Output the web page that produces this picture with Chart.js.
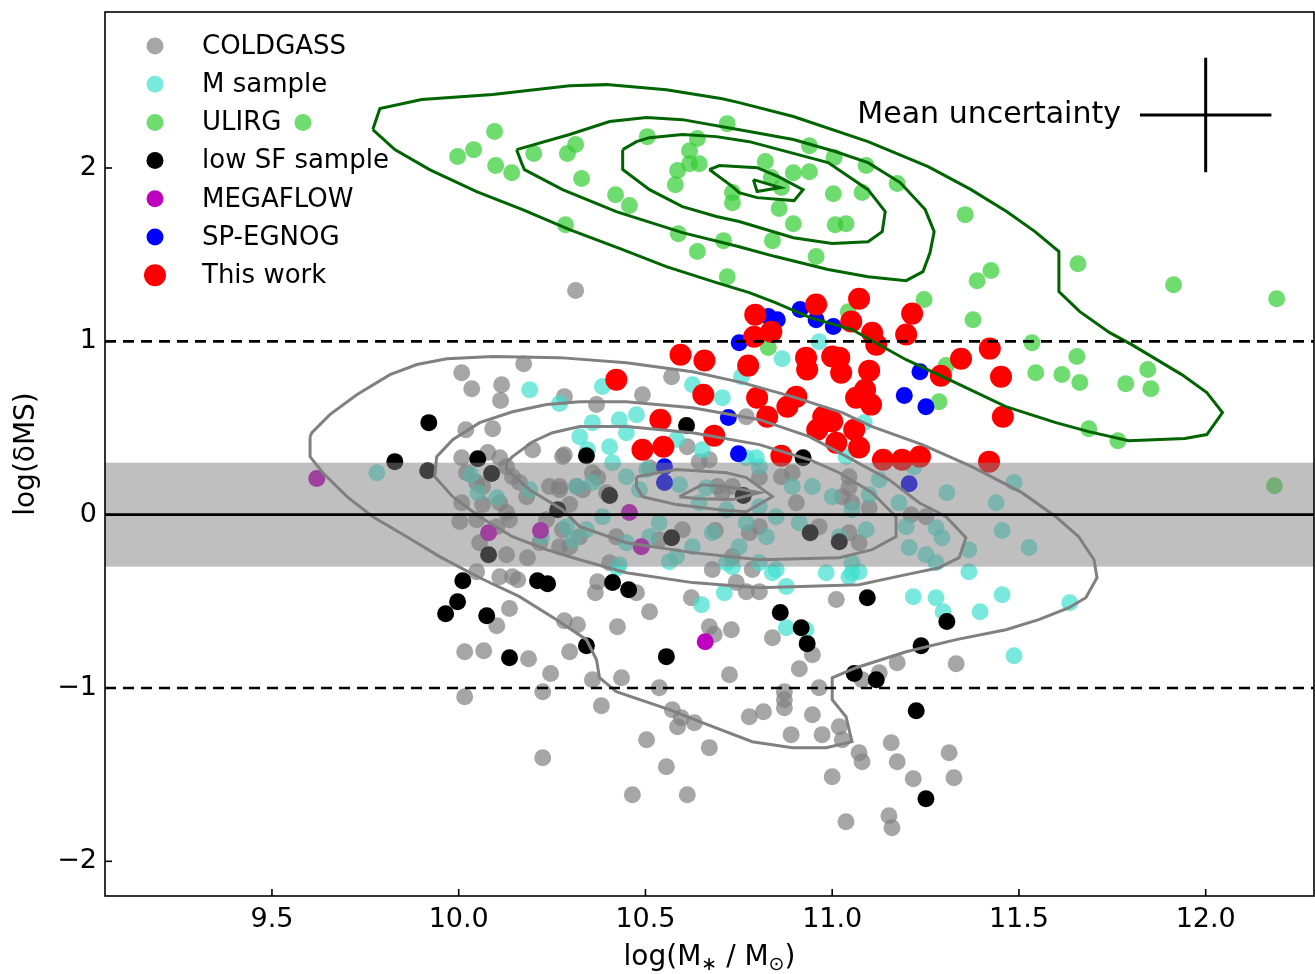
<!DOCTYPE html>
<html>
<head>
<meta charset="utf-8">
<script src="https://cdn.jsdelivr.net/npm/chart.js@4.4.0/dist/chart.umd.min.js"></script>
<style>
html, body { margin: 0; padding: 0; background: #fff; }
</style>
</head>
<body>
<canvas id="grafico" width="1315" height="974"></canvas>
<script>
// ejes
const ticksX = [9.5, 10.0, 10.5, 11.0, 11.5, 12.0];
const ticksY = [-2, -1, 0, 1, 2];
const limX = [9.053, 12.29];
const limY = [-2.2, 2.9];

// muestras [log M*, log dMS]
const coldgass = [[10.008,0.819],[10.174,0.871],[10.035,0.727],[10.115,0.750],[10.112,0.658],[10.283,0.681],[10.019,0.490],[10.091,0.496],[10.198,0.375],[10.278,0.335],[10.008,0.329],[10.078,0.358],[10.110,0.329],[10.128,0.277],[10.021,0.242],[10.144,0.219],[10.163,0.185],[10.048,0.185],[10.064,0.162],[10.182,0.104],[10.110,0.069],[10.008,0.069],[10.064,0.058],[10.243,0.162],[10.270,0.162],[10.316,0.162],[10.297,0.058],[10.128,0.012],[10.003,-0.040],[10.048,-0.029],[10.102,-0.069],[10.136,-0.029],[10.235,-0.029],[10.278,-0.087],[10.297,-0.185],[10.217,-0.162],[10.056,-0.162],[10.128,-0.231],[10.184,-0.248],[10.048,-0.329],[10.110,-0.358],[10.144,-0.358],[10.158,-0.375],[10.136,-0.542],[10.102,-0.641],[10.016,-0.791],[10.067,-0.785],[10.187,-0.831],[10.246,-0.917],[10.225,-1.021],[10.016,-1.050],[10.225,-1.402],[10.283,-0.612],[10.297,-0.791],[10.372,-0.387],[10.366,-0.450],[10.476,-0.450],[10.623,-0.479],[10.511,-0.560],[10.425,-0.646],[10.318,-0.635],[10.671,-0.646],[10.684,-0.692],[10.730,-0.664],[10.840,-0.710],[10.947,-0.808],[10.912,-0.889],[10.436,-0.941],[10.725,-0.923],[10.358,-0.952],[10.537,-0.998],[10.965,-0.998],[10.872,-1.021],[10.872,-1.068],[10.872,-1.114],[10.382,-1.102],[10.572,-1.125],[10.596,-1.171],[10.586,-1.223],[10.631,-1.200],[10.778,-1.166],[10.816,-1.137],[10.947,-1.154],[11.019,-1.223],[10.973,-1.269],[10.890,-1.269],[10.503,-1.298],[10.671,-1.344],[11.072,-1.373],[10.556,-1.454],[11.000,-1.512],[10.465,-1.616],[10.612,-1.616],[11.037,-1.771],[10.786,-0.317],[10.743,-0.392],[10.770,-0.444],[10.805,-0.444],[11.011,-0.490],[11.174,-0.854],[11.332,-0.860],[11.126,-0.912],[11.080,-0.952],[11.027,-1.298],[11.158,-1.316],[11.080,-1.425],[11.174,-1.425],[11.313,-1.373],[11.217,-1.523],[11.326,-1.518],[11.152,-1.737],[11.160,-1.806],[10.570,0.796],[10.492,0.692],[10.369,0.635],[10.770,0.565],[10.671,0.317],[10.693,0.162],[10.733,0.162],[10.706,0.127],[10.893,0.242],[11.045,0.219],[11.045,0.156],[11.027,0.104],[11.053,0.069],[10.965,-0.069],[11.045,-0.104],[11.072,-0.162],[10.904,0.069],[10.805,-0.069],[10.778,-0.104],[10.599,-0.087],[10.687,-0.092],[10.537,-0.144],[10.679,-0.317],[10.733,-0.242],[10.422,-0.127],[10.404,-0.277],[10.324,-0.127],[10.270,-0.185],[10.270,0.144],[10.358,0.242],[10.396,0.127],[10.332,0.144],[11.099,0.040],[11.211,0.000],[11.251,-0.012],[10.313,1.293],[10.283,0.346],[10.372,0.214],[10.511,0.271],[10.612,0.392],[10.644,0.306],[10.805,0.214],[10.864,0.219]];

const mSample = [[10.190,0.721],[10.270,0.641],[9.781,0.242],[10.032,0.231],[10.051,0.127],[10.102,0.098],[10.190,0.144],[10.222,-0.127],[10.289,-0.069],[10.305,-0.144],[10.324,0.450],[10.385,0.739],[10.358,0.531],[10.345,0.375],[10.404,0.392],[10.449,0.473],[10.476,0.577],[10.430,0.548],[10.626,0.750],[10.706,0.675],[10.757,0.796],[10.866,0.900],[10.770,0.329],[10.797,0.329],[10.805,0.277],[10.652,0.375],[10.583,0.433],[10.503,0.260],[10.449,0.219],[10.358,0.185],[10.316,0.162],[10.412,0.300],[10.484,0.144],[10.591,0.173],[10.663,0.156],[10.644,0.069],[10.717,0.029],[10.805,0.046],[10.824,-0.127],[10.893,0.162],[10.947,0.162],[11.000,0.104],[11.053,0.029],[11.019,-0.127],[10.912,-0.046],[10.850,-0.012],[10.770,-0.046],[10.679,-0.104],[10.626,-0.185],[10.537,-0.046],[10.511,-0.127],[10.449,-0.162],[10.385,-0.012],[10.342,-0.087],[10.751,-0.185],[10.805,-0.277],[10.850,-0.317],[10.717,-0.277],[10.583,-0.242],[10.430,-0.289],[11.053,-0.277],[11.053,-0.335],[10.984,-0.335],[11.086,0.531],[11.037,0.335],[11.126,0.202],[11.099,0.115],[11.179,0.069],[11.198,-0.069],[11.278,-0.075],[11.294,-0.133],[11.307,0.127],[11.439,0.069],[11.487,0.185],[11.455,-0.092],[11.527,-0.190],[11.366,-0.202],[11.206,-0.190],[11.251,-0.231],[11.278,-0.277],[11.366,-0.329],[11.072,-0.329],[11.045,-0.358],[11.219,0.277],[11.091,-0.087],[10.425,-0.306],[10.733,-0.300],[10.840,-0.335],[10.877,-0.415],[10.711,-0.450],[10.650,-0.519],[10.877,-0.652],[10.930,-0.664],[11.217,-0.473],[11.278,-0.479],[11.297,-0.560],[11.396,-0.560],[11.455,-0.462],[11.636,-0.508],[11.487,-0.814],[10.564,-0.271],[10.965,0.998]];

const ulirg = [[9.583,2.262],[9.997,2.066],[10.040,2.106],[10.096,2.210],[10.099,2.014],[10.142,1.973],[10.201,2.083],[10.291,2.083],[10.313,2.135],[10.329,1.939],[10.286,1.673],[10.420,1.846],[10.457,1.783],[10.505,2.181],[10.588,1.621],[10.639,1.518],[10.719,1.373],[10.719,2.256],[10.639,2.170],[10.618,2.100],[10.618,2.025],[10.644,2.025],[10.586,1.985],[10.580,1.904],[10.733,1.858],[10.733,1.800],[10.709,1.581],[10.821,2.037],[10.939,2.129],[11.005,2.060],[11.091,2.014],[11.174,1.910],[10.896,1.973],[10.939,1.979],[10.837,1.945],[10.864,1.887],[11.003,1.852],[11.080,1.858],[10.858,1.766],[10.896,1.679],[11.008,1.673],[11.037,1.679],[10.840,1.581],[10.957,1.489],[11.356,1.731],[11.658,1.448],[11.425,1.408],[11.388,1.350],[11.914,1.327],[12.190,1.246],[11.246,1.241],[11.377,1.125],[11.535,0.992],[11.655,0.912],[11.545,0.819],[11.615,0.808],[11.663,0.762],[11.845,0.837],[11.786,0.756],[11.853,0.727],[11.687,0.496],[11.765,0.427],[11.286,0.652],[11.305,0.860],[11.043,1.171],[10.829,0.964],[12.184,0.167]];

const lowSF = [[9.920,0.531],[9.829,0.306],[9.917,0.254],[10.051,0.323],[10.088,0.237],[10.265,0.029],[10.080,-0.231],[10.011,-0.381],[9.997,-0.502],[9.965,-0.571],[10.075,-0.583],[10.136,-0.825],[10.211,-0.381],[10.238,-0.398],[10.610,0.514],[10.342,0.340],[10.404,0.110],[10.762,0.110],[10.570,-0.133],[10.922,0.329],[10.941,-0.104],[11.019,-0.156],[10.412,-0.392],[10.455,-0.433],[10.342,-0.756],[10.556,-0.819],[10.861,-0.565],[10.917,-0.652],[10.933,-0.744],[11.059,-0.917],[11.094,-0.479],[11.307,-0.617],[11.238,-0.756],[11.118,-0.952],[11.225,-1.131],[11.251,-1.639]];

const megaflow = [[9.620,0.208],[10.080,-0.104],[10.219,-0.092],[10.457,0.012],[10.489,-0.185],[10.660,-0.733]];

const spEgnog = [[10.751,0.992],[10.829,1.143],[10.853,1.125],[10.914,1.183],[10.957,1.125],[11.003,1.085],[11.235,0.825],[11.193,0.687],[11.251,0.623],[10.722,0.560],[10.749,0.352],[10.551,0.277],[10.551,0.185],[11.206,0.179]];

const thisWork = [[10.422,0.779],[10.594,0.923],[10.658,0.889],[10.655,0.692],[10.540,0.548],[10.492,0.375],[10.548,0.392],[10.684,0.456],[10.775,0.860],[10.794,1.154],[10.791,1.027],[10.837,1.056],[10.799,0.675],[10.826,0.565],[10.880,0.623],[10.904,0.681],[10.864,0.340],[10.957,1.212],[10.930,0.906],[10.933,0.837],[11.000,0.912],[11.024,0.819],[11.072,1.246],[11.051,1.114],[11.107,1.050],[11.118,0.981],[11.214,1.160],[11.198,1.039],[11.099,0.831],[11.064,0.675],[11.088,0.721],[11.104,0.635],[10.976,0.565],[10.960,0.490],[11.011,0.415],[11.059,0.490],[11.072,0.387],[11.291,0.802],[11.345,0.900],[11.422,0.958],[11.452,0.796],[11.457,0.565],[11.136,0.317],[11.187,0.317],[11.235,0.335],[11.420,0.306],[11.019,0.906],[11.000,0.537]];

// contornos de densidad ULIRG
const ulirgCont1 = [[9.770,2.222],[9.789,2.343],[9.901,2.395],[10.091,2.424],[10.297,2.475],[10.396,2.481],[10.556,2.452],[10.706,2.400],[10.751,2.377],[10.896,2.297],[11.096,2.152],[11.257,2.008],[11.372,1.875],[11.468,1.748],[11.543,1.633],[11.607,1.518],[11.607,1.287],[11.663,1.171],[11.743,1.050],[11.802,0.981],[11.936,0.808],[12.003,0.704],[12.045,0.589],[12.003,0.462],[11.944,0.439],[11.794,0.427],[11.687,0.479],[11.599,0.531],[11.465,0.623],[11.313,0.779],[11.198,0.894],[11.053,1.068],[10.941,1.137],[10.848,1.223],[10.778,1.281],[10.690,1.339],[10.556,1.431],[10.439,1.529],[10.297,1.645],[10.171,1.760],[10.048,1.864],[9.922,1.991],[9.829,2.106]];
const ulirgCont2 = [[10.155,2.106],[10.297,2.193],[10.404,2.268],[10.503,2.291],[10.599,2.279],[10.778,2.210],[10.896,2.164],[11.008,2.095],[11.096,2.031],[11.182,1.916],[11.249,1.760],[11.273,1.633],[11.262,1.512],[11.243,1.402],[11.198,1.350],[11.096,1.373],[10.989,1.414],[10.848,1.489],[10.751,1.546],[10.599,1.627],[10.422,1.748],[10.278,1.875],[10.176,1.991],[10.168,2.031]];
const ulirgCont3 = [[10.439,2.106],[10.476,2.152],[10.511,2.175],[10.599,2.193],[10.690,2.181],[10.778,2.152],[10.989,2.031],[11.096,1.875],[11.142,1.748],[11.134,1.633],[11.096,1.575],[11.000,1.564],[10.896,1.598],[10.751,1.691],[10.690,1.720],[10.599,1.777],[10.511,1.875],[10.439,1.991]];
const ulirgCont4 = [[10.671,1.991],[10.698,2.014],[10.799,2.002],[10.856,1.950],[10.922,1.875],[10.898,1.812],[10.799,1.829],[10.751,1.858],[10.733,1.893]];
const ulirgCont5 = [[10.789,1.933],[10.861,1.887],[10.799,1.864]];

// contornos de densidad COLDGASS
const cgCont1 = [[9.602,0.450],[9.602,0.335],[9.636,0.242],[9.701,0.104],[9.770,-0.012],[9.861,-0.127],[9.949,-0.242],[10.056,-0.364],[10.163,-0.473],[10.262,-0.606],[10.342,-0.721],[10.369,-0.837],[10.377,-0.941],[10.422,-1.021],[10.564,-1.125],[10.652,-1.200],[10.786,-1.310],[10.893,-1.344],[10.984,-1.344],[11.053,-1.310],[11.037,-1.166],[11.000,-1.068],[11.000,-0.941],[11.064,-0.883],[11.198,-0.791],[11.332,-0.721],[11.465,-0.664],[11.553,-0.606],[11.634,-0.537],[11.679,-0.479],[11.709,-0.364],[11.701,-0.260],[11.660,-0.127],[11.599,-0.012],[11.508,0.127],[11.374,0.277],[11.241,0.404],[11.107,0.508],[11.027,0.589],[10.893,0.681],[10.759,0.762],[10.626,0.825],[10.449,0.877],[10.270,0.906],[10.091,0.912],[9.968,0.900],[9.888,0.866],[9.816,0.808],[9.727,0.692],[9.655,0.577],[9.607,0.473]];
const cgCont2 = [[10.324,-0.260],[10.449,-0.335],[10.626,-0.392],[10.805,-0.421],[11.072,-0.404],[11.198,-0.346],[11.286,-0.306],[11.340,-0.248],[11.358,-0.133],[11.305,-0.012],[11.233,0.069],[11.152,0.202],[11.019,0.358],[10.939,0.450],[10.805,0.548],[10.626,0.617],[10.449,0.652],[10.324,0.652],[10.235,0.635],[10.144,0.594],[10.056,0.531],[9.984,0.433],[9.941,0.335],[9.936,0.219],[9.984,0.104],[10.056,-0.012],[10.144,-0.127],[10.235,-0.202]];
const cgCont3 = [[10.128,0.300],[10.144,0.335],[10.198,0.421],[10.251,0.473],[10.324,0.508],[10.449,0.508],[10.626,0.473],[10.805,0.404],[10.939,0.317],[11.019,0.242],[11.107,0.127],[11.171,-0.012],[11.171,-0.127],[11.107,-0.202],[11.019,-0.248],[10.805,-0.260],[10.626,-0.219],[10.449,-0.162],[10.324,-0.069],[10.278,0.029],[10.190,0.144],[10.128,0.260]];
const cgCont4 = [[10.476,0.219],[10.583,0.260],[10.717,0.242],[10.770,0.214],[10.840,0.104],[10.770,0.017],[10.698,0.029],[10.583,0.058],[10.492,0.104],[10.476,0.162]];
const cgCont5 = [[10.591,0.104],[10.652,0.173],[10.717,0.162],[10.805,0.127],[10.733,0.087],[10.644,0.092]];

// referencias
const bandaMS = 0.3;
const lineasMS = [-1, 1];
const incertMedia = { x: 12.0, y: 2.306, ex: 0.176, ey: 0.33 };

const aPuntos = arr => arr.map(p => ({ x: p[0], y: p[1] }));
const cerrado = arr => aPuntos(arr.concat([arr[0]]));
const fuente = '"DejaVu Sans", sans-serif';

const serie = (label, arr, color, radio, orden) => ({
    label: label, data: aPuntos(arr), backgroundColor: color, borderWidth: 0,
    pointRadius: radio, pointHoverRadius: radio, showLine: false, order: orden, enLeyenda: true
});
const contorno = (arr, color) => ({
    label: '', data: cerrado(arr), borderColor: color, borderWidth: 3, showLine: true,
    pointRadius: 0, fill: false, tension: 0, order: 1, enLeyenda: false
});

const extras = {
    id: 'extras',
    afterDatasetsDraw(chart) {
        const { ctx, chartArea: a, scales: { x, y } } = chart;
        ctx.save();
        ctx.beginPath();
        ctx.rect(a.left, a.top, a.width, a.height);
        ctx.clip();
        // banda de la secuencia principal
        const yA = y.getPixelForValue(bandaMS);
        const yB = y.getPixelForValue(-bandaMS);
        ctx.fillStyle = 'rgba(128,128,128,0.5)';
        ctx.fillRect(a.left, yA, a.width, yB - yA);
        // lineas discontinuas
        ctx.strokeStyle = '#000';
        ctx.lineWidth = 2.6;
        ctx.setLineDash([11, 7]);
        lineasMS.forEach(v => {
            const py = y.getPixelForValue(v);
            ctx.beginPath(); ctx.moveTo(a.left, py); ctx.lineTo(a.right, py); ctx.stroke();
        });
        ctx.setLineDash([]);
        const p0 = y.getPixelForValue(0);
        ctx.beginPath(); ctx.moveTo(a.left, p0); ctx.lineTo(a.right, p0); ctx.stroke();
        ctx.restore();
    },
    afterDraw(chart) {
        const { ctx, chartArea: a, scales: { x, y } } = chart;
        ctx.save();
        // marco y ticks hacia dentro
        ctx.strokeStyle = '#000';
        ctx.lineWidth = 1.6;
        ctx.strokeRect(a.left, a.top, a.width, a.height);
        ticksX.forEach(v => {
            const px = x.getPixelForValue(v);
            ctx.beginPath(); ctx.moveTo(px, a.bottom); ctx.lineTo(px, a.bottom - 7); ctx.stroke();
        });
        ticksY.forEach(v => {
            const py = y.getPixelForValue(v);
            ctx.beginPath(); ctx.moveTo(a.left, py); ctx.lineTo(a.left + 7, py); ctx.stroke();
        });

        // incertidumbre media
        const cx = x.getPixelForValue(incertMedia.x);
        const cy = y.getPixelForValue(incertMedia.y);
        ctx.lineWidth = 3;
        ctx.beginPath();
        ctx.moveTo(x.getPixelForValue(incertMedia.x - incertMedia.ex), cy);
        ctx.lineTo(x.getPixelForValue(incertMedia.x + incertMedia.ex), cy);
        ctx.moveTo(cx, y.getPixelForValue(incertMedia.y + incertMedia.ey));
        ctx.lineTo(cx, y.getPixelForValue(incertMedia.y - incertMedia.ey));
        ctx.stroke();
        ctx.fillStyle = '#000';
        ctx.font = '30px ' + fuente;
        ctx.textAlign = 'right';
        ctx.textBaseline = 'middle';
        ctx.fillText('Mean uncertainty', x.getPixelForValue(incertMedia.x - incertMedia.ex) - 19, cy);

        // leyenda
        const items = chart.data.datasets.filter(d => d.enLeyenda);
        ctx.font = '26px ' + fuente;
        ctx.textAlign = 'left';
        items.forEach((d, i) => {
            const ly = a.top + 34 + i * 38.2;
            ctx.fillStyle = d.backgroundColor;
            ctx.beginPath(); ctx.arc(a.left + 50, ly, d.pointRadius, 0, Math.PI * 2); ctx.fill();
            ctx.fillStyle = '#000';
            ctx.fillText(d.label, a.left + 97, ly + 1);
        });

        // titulos de ejes
        ctx.font = '28px ' + fuente;
        ctx.textBaseline = 'middle';
        const partes = [['log(M', 0], ['\u2217', 1], [' / M', 0], ['\u2299', 1], [')', 0]];
        const ancho = p => { ctx.font = (p[1] ? '19px ' : '28px ') + fuente; return ctx.measureText(p[0]).width; };
        const total = partes.reduce((s, p) => s + ancho(p), 0);
        let tx = (a.left + a.right) / 2 - total / 2;
        const ty = 958;
        partes.forEach(p => {
            const w = ancho(p);
            ctx.fillText(p[0], tx, ty + (p[1] ? 7 : 0));
            tx += w;
        });
        ctx.font = '28px ' + fuente;
        ctx.translate(27, (a.top + a.bottom) / 2);
        ctx.rotate(-Math.PI / 2);
        ctx.textAlign = 'center';
        ctx.fillText('log(\u03b4MS)', 0, 0);
        ctx.restore();
    }
};

const ctx = document.getElementById('grafico').getContext('2d');
new Chart(ctx, {
    type: 'scatter',
    data: {
        datasets: [
            serie('COLDGASS', coldgass, 'rgba(128,128,128,0.7)', 8.5, 8),
            serie('M sample', mSample, 'rgba(64,224,208,0.7)', 8.5, 7),
            serie('ULIRG', ulirg, 'rgba(50,205,50,0.7)', 8.5, 6),
            serie('low SF sample', lowSF, '#000000', 8.5, 5),
            serie('MEGAFLOW', megaflow, '#bf00bf', 8.5, 4),
            serie('SP-EGNOG', spEgnog, '#0000ff', 8.5, 3),
            serie('This work', thisWork, '#ff0000', 11, 2),
            contorno(ulirgCont1, '#006400'),
            contorno(ulirgCont2, '#006400'),
            contorno(ulirgCont3, '#006400'),
            contorno(ulirgCont4, '#006400'),
            contorno(ulirgCont5, '#006400'),
            contorno(cgCont1, '#808080'),
            contorno(cgCont2, '#808080'),
            contorno(cgCont3, '#808080'),
            contorno(cgCont4, '#808080'),
            contorno(cgCont5, '#808080')
        ]
    },
    options: {
        responsive: false,
        animation: false,
        devicePixelRatio: 1,
        layout: { autoPadding: false, padding: { top: 12, right: 1, left: 0, bottom: 0 } },
        plugins: { legend: { display: false }, tooltip: { enabled: false } },
        scales: {
            x: {
                type: 'linear', min: limX[0], max: limX[1],
                afterFit: s => { s.height = 78; s.paddingLeft = 0; s.paddingRight = 0; },
                grid: { display: false, drawTicks: false },
                border: { display: false },
                ticks: {
                    stepSize: 0.5, includeBounds: false, padding: 8, color: '#000',
                    font: { family: fuente, size: 27 },
                    callback: v => Number(v).toFixed(1)
                }
            },
            y: {
                type: 'linear', min: limY[0], max: limY[1],
                afterFit: s => { s.width = 105; s.paddingTop = 0; s.paddingBottom = 0; },
                grid: { display: false, drawTicks: false },
                border: { display: false },
                ticks: {
                    stepSize: 1, includeBounds: false, padding: 8, color: '#000',
                    font: { family: fuente, size: 27 },
                    callback: v => v < 0 ? '\u2212' + Math.abs(v) : String(v)
                }
            }
        }
    },
    plugins: [extras]
});
</script>
</body>
</html>
